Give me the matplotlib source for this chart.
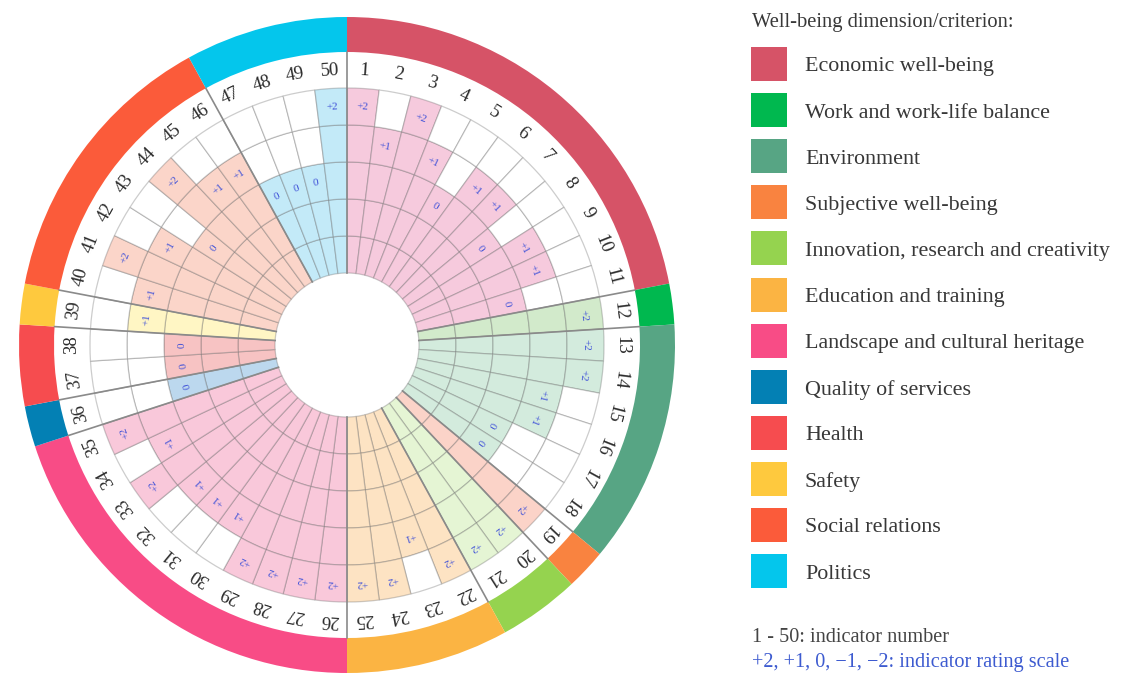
import numpy as np
import matplotlib.pyplot as plt
from matplotlib.patches import Rectangle

plt.rcParams['font.family'] = ['Liberation Serif', 'DejaVu Serif']

# well-being dimensions and their indicators
dimensions = ['Economic well-being', 'Work and work-life balance', 'Environment',
              'Subjective well-being', 'Innovation, research and creativity',
              'Education and training', 'Landscape and cultural heritage',
              'Quality of services', 'Health', 'Safety', 'Social relations', 'Politics']
indicators_per_dim = [11, 1, 6, 1, 2, 4, 10, 1, 2, 1, 7, 4]
ring_colors = ['#D65367', '#00B84F', '#57A584', '#F98340', '#95D34F', '#FBB443',
               '#F84C86', '#0380B4', '#F64C4F', '#FEC93E', '#FB5B3A', '#04C6EC']
fill_colors = ['#F6CADD', '#D2EACB', '#D3EBDD', '#FBD3C8', '#E5F5D4', '#FDE3C3',
               '#F9C8DA', '#BCD8EE', '#F7C3C3', '#FFF6C4', '#FBD5C9', '#C3EAF8']

# rating of indicators 1..50 on the -2..+2 scale
ratings = [2, 1, 2, 1, 0, 1, 1, 0, 1, 1, 0,
           2,
           2, 2, 1, 1, 0, 0,
           2,
           2, 2,
           2, 1, 2, 2,
           2, 2, 2, 2, 1, 1, 1, 2, 1, 2,
           0,
           0, 0,
           1,
           1, 2, 1, 0, 2, 1, 1,
           0, 0, 0, 2]
scale = [-2, -1, 0, 1, 2]

n = len(ratings)
step = 2 * np.pi / n
theta = (np.arange(n) + 0.5) * step
dim_of = np.repeat(np.arange(len(dimensions)), indicators_per_dim)

r0, dr = 72, 37
r_grid = r0 + dr * len(scale)
r_ring0, r_ring1 = 293, 328

W, H = 1136, 677
fig = plt.figure(figsize=(W / 100, H / 100), dpi=100)
cx, cy, R = 347, 345, 330
ax = fig.add_axes([(cx - R) / W, (H - cy - R) / H, 2 * R / W, 2 * R / H], projection='polar')
ax.set_theta_zero_location('N')
ax.set_theta_direction(-1)
ax.set_ylim(0, R)
ax.axis('off')

edge = (0.35, 0.35, 0.35, 0.3)
for i in range(n):
    level = scale.index(ratings[i])
    for k in range(len(scale)):
        c = fill_colors[dim_of[i]] if k <= level else 'white'
        ax.bar(theta[i], dr, width=step, bottom=r0 + k * dr, color=c,
               edgecolor=edge, linewidth=0.9)
    # rating label in the top filled cell
    lab = '0' if ratings[i] == 0 else ('%+d' % ratings[i]).replace('-', '\u2212')
    deg = np.degrees(theta[i])
    ax.text(theta[i], r0 + (level + 0.5) * dr, lab, color='#4052D8', fontsize=8,
            rotation=-deg, rotation_mode='anchor', ha='center', va='center')
    # indicator number
    ax.text(theta[i], (r_grid + r_ring0) / 2, str(i + 1), color='#2b2b2b', fontsize=13.5,
            rotation=-deg, rotation_mode='anchor', ha='center', va='center')

# outer coloured ring and dimension boundaries
starts = np.concatenate([[0], np.cumsum(indicators_per_dim)[:-1]])
for d, (s, m) in enumerate(zip(starts, indicators_per_dim)):
    ax.bar((s + m / 2) * step, r_ring1 - r_ring0, width=m * step, bottom=r_ring0,
           color=ring_colors[d], edgecolor='none')
    ax.plot([s * step, s * step], [r0, r_ring0], color='#8a8a8a', linewidth=1.2)

# legend
def fx(px):
    return px / W

def fy(py):
    return 1 - py / H

fig.text(fx(752), fy(23), 'Well-being dimension/criterion:', fontsize=14.8,
         color='#383838', va='center', ha='left')
for d, name in enumerate(dimensions):
    yc = 64 + d * 46.1
    fig.add_artist(Rectangle((fx(751), fy(yc + 17)), fx(36), 34 / H,
                             transform=fig.transFigure, facecolor=ring_colors[d],
                             edgecolor='none'))
    fig.text(fx(805), fy(yc + 3), name, fontsize=15.8, color='#383838', va='center', ha='left')

fig.text(fx(752), fy(638), '1 - 50: indicator number', fontsize=14.6, color='#444444',
         va='center', ha='left')
fig.text(fx(752), fy(663), '+2, +1, 0, \u22121, \u22122: indicator rating scale', fontsize=14.6,
         color='#3D5BD0', va='center', ha='left')

fig.savefig('out.png', dpi=100)
